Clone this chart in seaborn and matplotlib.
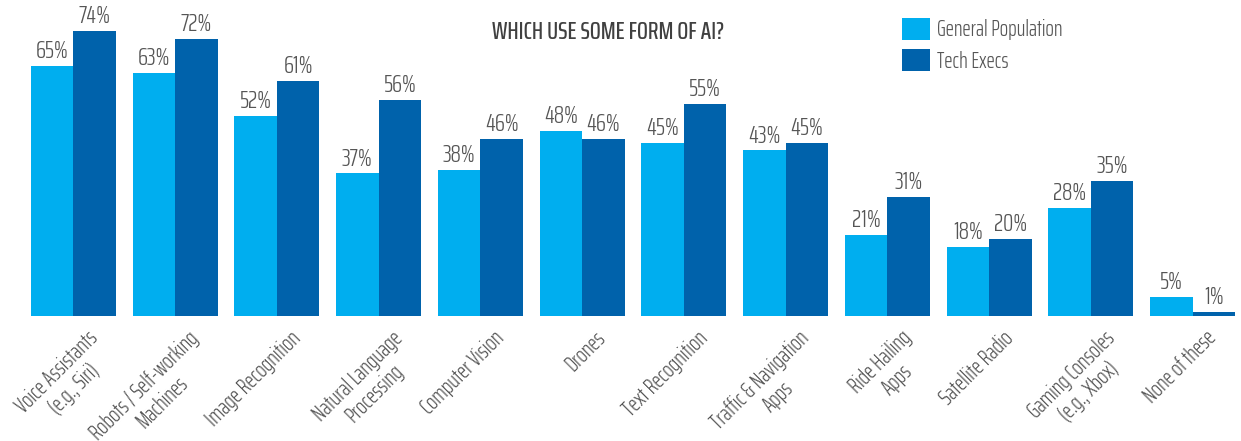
import pandas as pd
import seaborn as sns
import matplotlib.pyplot as plt
import matplotlib.transforms as mtransforms

# Survey answers: share of respondents who think each item uses AI
categories = ["Voice Assistants\n(e.g., Siri)", "Robots / Self-working\nMachines", "Image Recognition",
              "Natural Language\nProcessing", "Computer Vision", "Drones", "Text Recognition",
              "Traffic & Navigation\nApps", "Ride Hailing\nApps", "Satellite Radio",
              "Gaming Consoles\n(e.g., Xbox)", "None of these"]
general_population = [65, 63, 52, 37, 38, 48, 45, 43, 21, 18, 28, 5]
tech_execs = [74, 72, 61, 56, 46, 46, 55, 45, 31, 20, 35, 1]
series = ["General Population", "Tech Execs"]

ai_df = pd.DataFrame({
    "Item": categories * 2,
    "Group": [series[0]] * len(categories) + [series[1]] * len(categories),
    "Share": general_population + tech_execs,
})

sns.set_theme(style="white")
plt.rcParams["font.family"] = ["Saira ExtraCondensed", "DejaVu Sans"]
plt.rcParams["font.weight"] = 300

fig = plt.figure(figsize=(12.41, 4.41), dpi=100)
ax = fig.add_axes([31 / 1241, 125 / 441, 1204 / 1241, 316 / 441])

sns.barplot(data=ai_df, x="Item", y="Share", hue="Group", order=categories, hue_order=series,
            palette=["#00AEEF", "#0062AB"], width=0.835, gap=0, linewidth=0, saturation=1,
            ax=ax)

for cont in ax.containers:
    ax.bar_label(cont, fmt="%d%%", padding=2, fontsize=18.5, color="#555555", fontweight=300)

ax.set_xlim(-0.4175, 11.4175)
ax.set_ylim(0, 82)
ax.set_xlabel("")
ax.set_ylabel("")
ax.set_yticks([])
sns.despine(ax=ax, left=True, bottom=True)
ax.tick_params(axis="x", length=0, pad=8)

# rotated category labels, anchored at their top-right corner
shift = mtransforms.ScaledTranslation(13 / 100, 0, fig.dpi_scale_trans)
for lbl in ax.get_xticklabels():
    lbl.set_rotation(45)
    lbl.set_rotation_mode("anchor")
    lbl.set_ha("right")
    lbl.set_va("top")
    lbl.set_multialignment("center")
    lbl.set_fontsize(16)
    lbl.set_fontweight(300)
    lbl.set_color("#555555")
    lbl.set_transform(lbl.get_transform() + shift)

fig.text(608 / 1241, 1 - 32 / 441, "WHICH USE SOME FORM OF AI?", ha="center", va="center",
         fontsize=18.5, color="#404040", fontweight=500)

ax.legend(loc="upper left", bbox_to_anchor=(902 / 1241, 1 - 18 / 441), bbox_transform=fig.transFigure,
          frameon=False, prop={"size": 16, "weight": 300}, handlelength=1.26, handleheight=1.13,
          labelspacing=0.4, handletextpad=0.3, borderaxespad=0, borderpad=0, labelcolor="#555555")

fig.savefig("out.png", dpi=100)
